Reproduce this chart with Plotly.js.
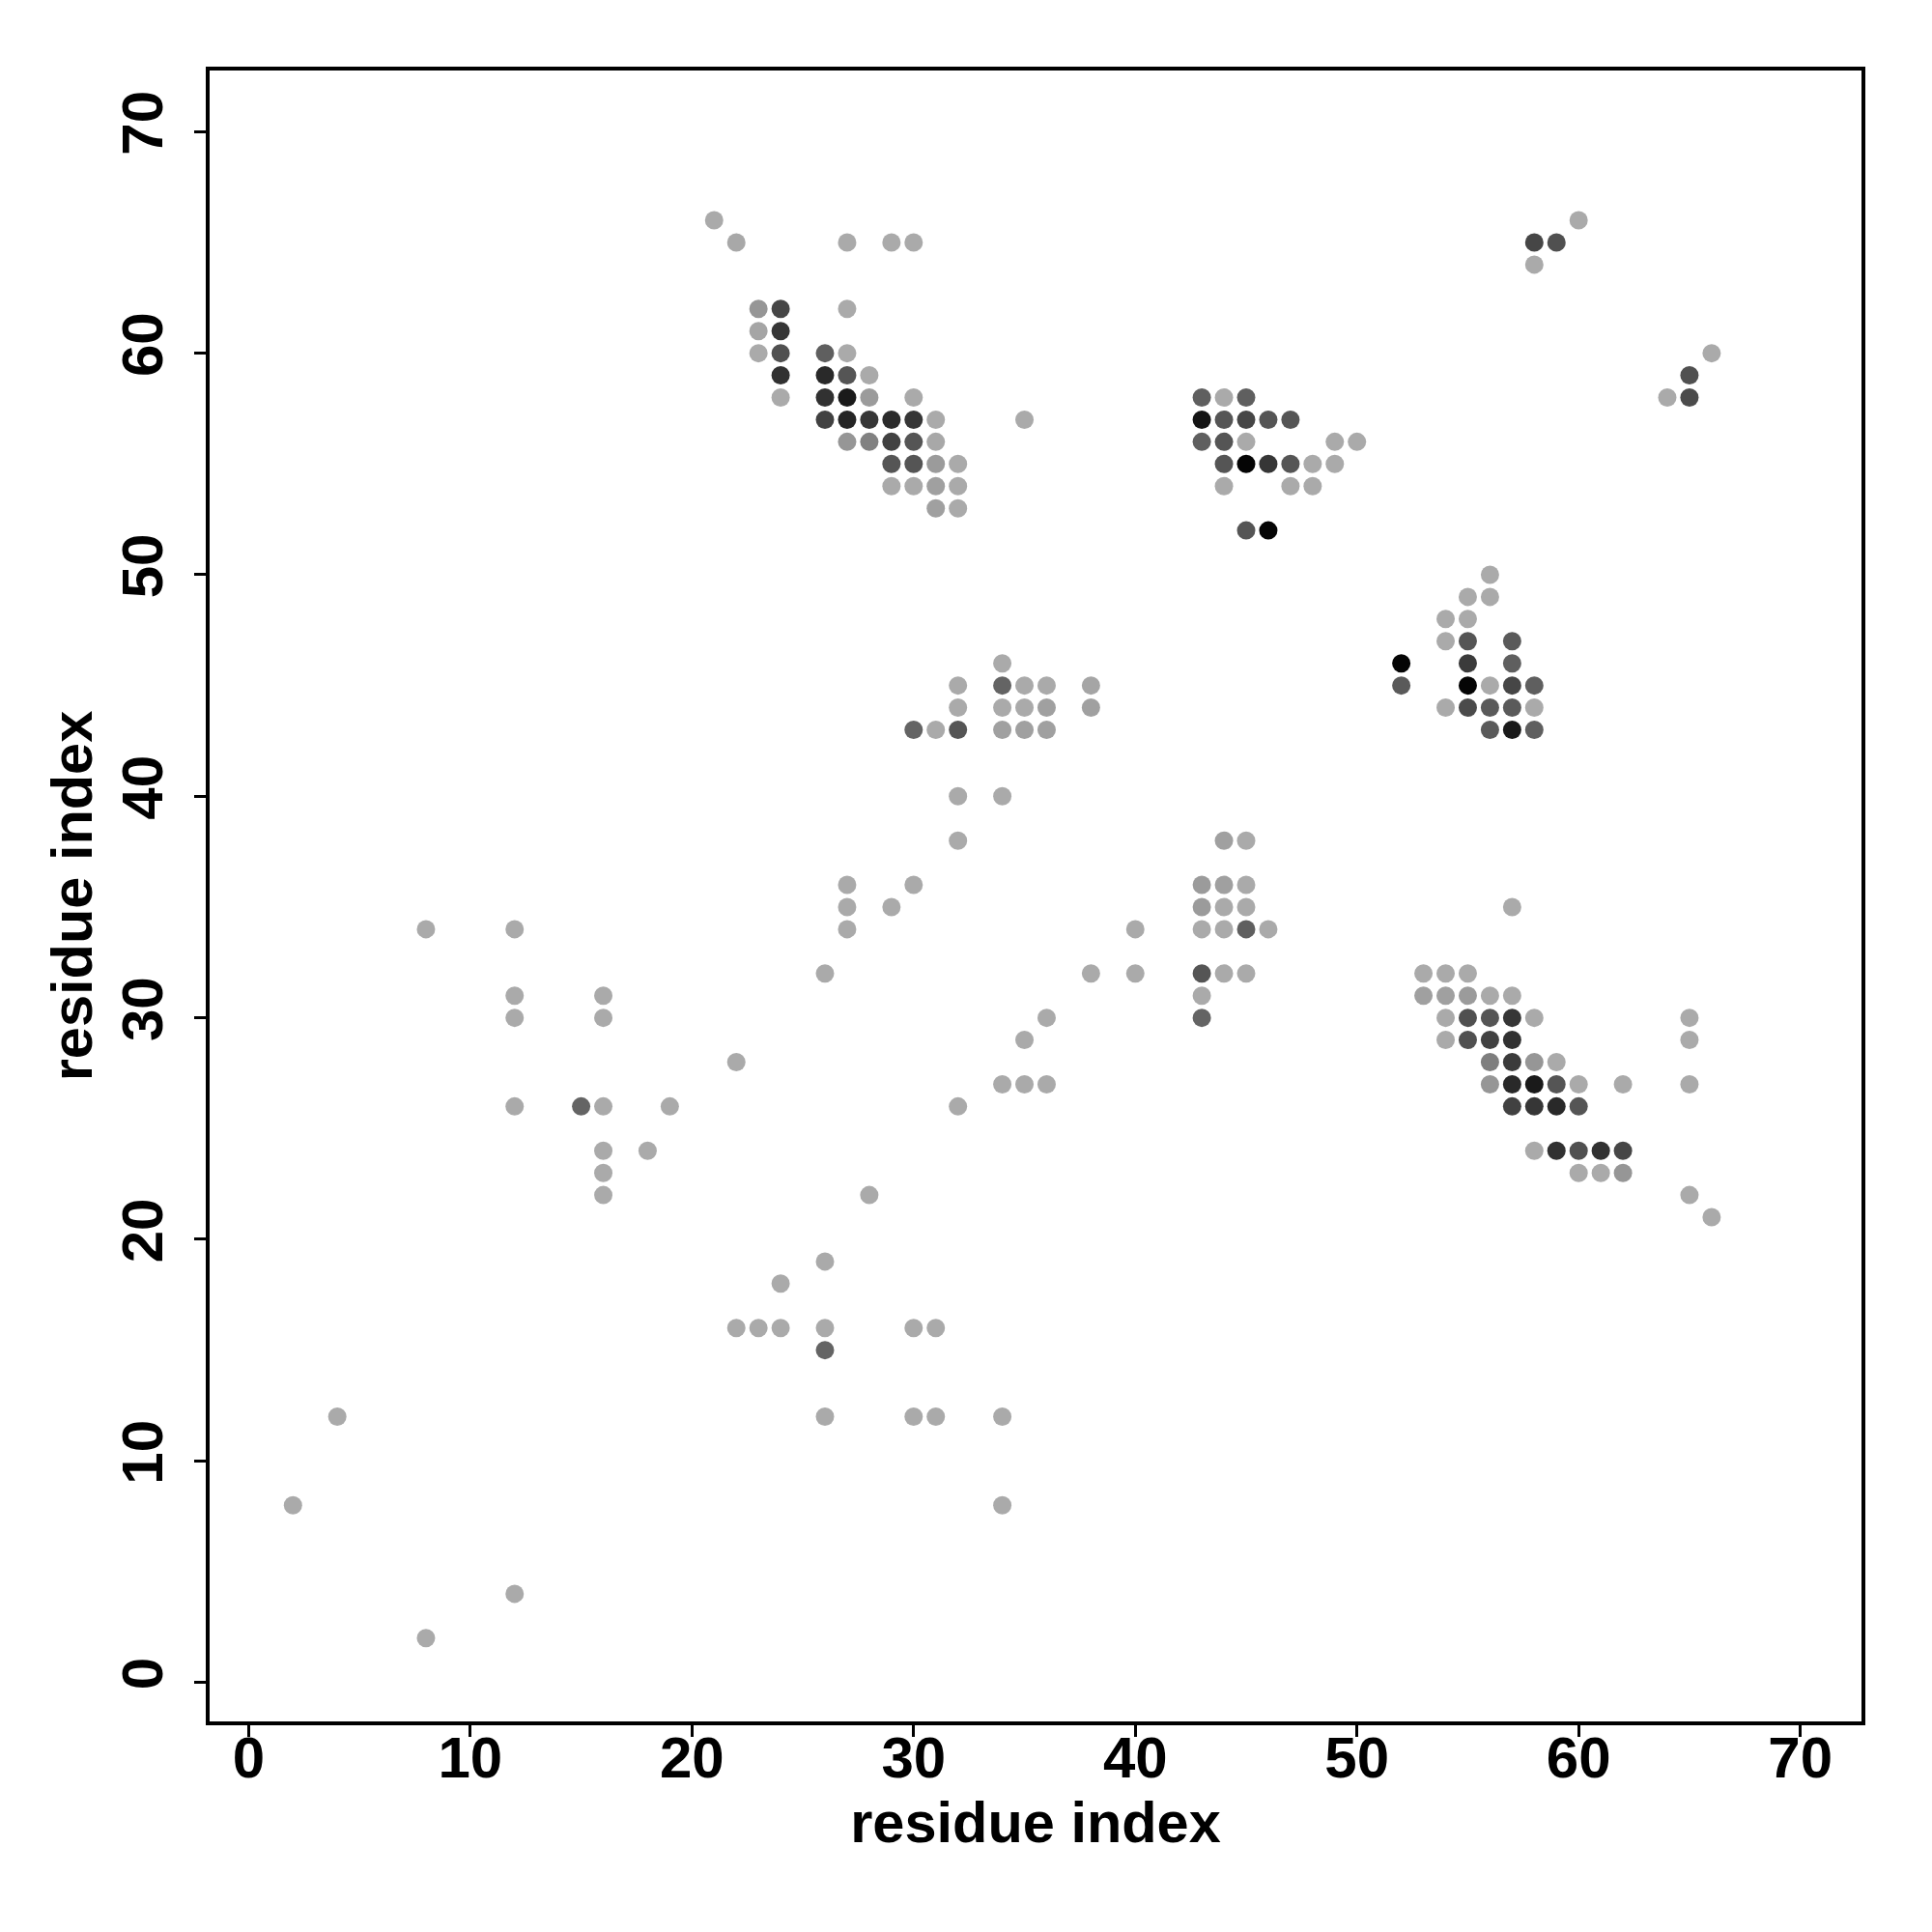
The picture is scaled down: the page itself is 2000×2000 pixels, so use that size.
<!DOCTYPE html>
<html>
<head>
<meta charset="utf-8">
<script src="https://cdn.plot.ly/plotly-3.0.1.min.js"></script>
<style>
  html, body { margin: 0; padding: 0; background: #ffffff; }
  #chart { width: 2000px; height: 2000px; }
</style>
</head>
<body>
<div id="chart"></div>
<script>
// Contact map: residue i (x), residue j (y), contact score (0 = weak/light grey, 1 = strong/black)
const resX = [
  21,22,27,29,30, 23,24,27, 23,24, 23,24,26,27, 24,26,27,28, 24,26,27,28,30,
  26,27,28,29,30,31,35, 27,28,29,30,31, 29,30,31,32, 29,30,31,32, 31,32,
  43,44,45, 43,44,45,46,47, 43,44,45,49,50, 44,45,46,47,48,49, 44,47,48, 45,46,
  56,55,56,54,55, 54,55,57, 52,55,57, 52,55,56,57,58, 54,55,56,57,58, 56,57,58,
  53,54,55, 53,54,55,56,57, 54,55,56,57,58, 54,55,56,57, 56,57,58,59,
  56,57,58,59,60,62, 57,58,59,60, 58,59,60,61,62, 60,61,62,
  34,32,34,35,36,38, 32,34,35,36,38, 30,31,32,34,35,36, 32,34,32,
  44,45, 43,44,45, 43,44,45, 40,43,44,45,46, 38,40,43,44,45, 43,43,
  60,58,59,58,66,65,65,64,
  65,65,65,65,66,57,
  8,12,12,12,16,16, 12,15,16,19, 16,18,16,16,
  22,26,27,27,27,29,30, 32,34,35,36,35,36, 28,
  22,23,24,24,26,26,26, 30,31, 26,30,31,34,34, 2,4,8,12
];
const resY = [
  66,65,65,65,65, 62,62,62, 61,61, 60,60,60,60, 59,59,59,59, 58,58,58,58,58,
  57,57,57,57,57,57,57, 56,56,56,56,56, 55,55,55,55, 54,54,54,54, 53,53,
  58,58,58, 57,57,57,57,57, 56,56,56,56,56, 55,55,55,55,55,55, 54,54,54, 52,52,
  50,49,49,48,48, 47,47,47, 46,46,46, 45,45,45,45,45, 44,44,44,44,44, 43,43,43,
  32,32,32, 31,31,31,31,31, 30,30,30,30,30, 29,29,29,29, 28,28,28,28,
  27,27,27,27,27,27, 26,26,26,26, 24,24,24,24,24, 23,23,23,
  46,45,45,45,45,45, 44,44,44,44,44, 43,43,43,43,43,43, 40,40,38,
  38,38, 36,36,36, 35,35,35, 34,34,34,34,34, 32,32,32,32,32, 31,30,
  66,65,65,64,60,59,58,58,
  30,29,27,22,21,35,
  34,34,31,30,31,30, 26,26,26,26, 24,24,23,22,
  28,32,36,35,34,35,36, 26,27,27,27,29,30, 22,
  16,16,16,18,19,16,15, 16,16, 12,12,12,12,8, 8,12,2,4
];
const score = [
  0,0.01,0,0,0, 0.12,0.59,0, 0.03,0.68, 0,0.53,0.44,0, 0.71,0.76,0.5,0, 0,0.71,0.85,0.09,0,
  0.62,0.78,0.68,0.75,0.68,0,0, 0.12,0.24,0.62,0.5,0.01, 0.5,0.5,0.09,0, 0,0,0.06,0, 0.06,0,
  0.44,0,0.44, 0.88,0.5,0.59,0.5,0.5, 0.44,0.5,0,0,0, 0.5,0.97,0.68,0.5,0,0, 0,0,0, 0.5,0.97,
  0,0,0,0,0, 0,0.5,0.47, 0.97,0.65,0.44, 0.47,0.97,0,0.59,0.44, 0,0.56,0.47,0.47,0, 0.47,0.85,0.44,
  0,0,0, 0.06,0.06,0.09,0,0, 0,0.53,0.5,0.68,0, 0,0.53,0.62,0.71, 0.26,0.65,0.12,0,
  0.12,0.76,0.85,0.5,0,0, 0.62,0.68,0.76,0.5, 0,0.71,0.53,0.71,0.59, 0,0,0.12,
  0,0,0.41,0,0,0.03, 0,0,0,0.06,0.06, 0.41,0,0.5,0.06,0.06,0.06, 0,0,0,
  0.06,0, 0.09,0.06,0, 0.09,0,0, 0,0,0,0.44,0, 0,0,0.5,0,0, 0,0.41,
  0,0.59,0.53,0,0,0.53,0.56,0,
  0,0,0,0,0,0,
  0,0,0,0,0,0, 0,0.41,0,0, 0,0,0,0,
  0,0,0,0,0,0,0, 0,0,0,0,0,0, 0,
  0,0,0,0,0,0,0.41, 0,0, 0,0,0,0,0, 0,0,0,0
];
const tickVals = [0, 10, 20, 30, 40, 50, 60, 70];
const axisTitle = "residue index";

const fontBold = { family: "Liberation Sans, Arial, Helvetica, sans-serif", size: 60, color: "#000000", weight: "bold" };
const titleFont = { family: "Liberation Sans, Arial, Helvetica, sans-serif", size: 59.5, color: "#000000", weight: "bold" };

const trace = {
  type: "scatter",
  mode: "markers",
  x: resX,
  y: resY,
  marker: {
    size: 19,
    color: score,
    cmin: 0,
    cmax: 1,
    colorscale: [[0, "rgb(170,170,170)"], [1, "rgb(0,0,0)"]],
    showscale: false,
    line: { width: 0 }
  },
  hoverinfo: "x+y"
};

const axisCommon = {
  range: [-1.76, 72.76],
  tickvals: tickVals,
  ticktext: tickVals.map(String),
  showgrid: false,
  zeroline: false,
  showline: true,
  mirror: true,
  linecolor: "#000000",
  linewidth: 4,
  ticks: "outside",
  ticklen: 12,
  tickwidth: 3,
  tickcolor: "#000000",
  tickfont: fontBold,
  automargin: false
};

const layout = {
  width: 2000,
  height: 2000,
  paper_bgcolor: "#ffffff",
  plot_bgcolor: "#ffffff",
  showlegend: false,
  margin: { l: 217, r: 73, t: 73, b: 218 },
  xaxis: Object.assign({}, axisCommon, {
    ticklabelstandoff: -30,
    title: { text: axisTitle, font: titleFont, standoff: 12 }
  }),
  yaxis: Object.assign({}, axisCommon, {
    tickangle: -90,
    ticklabelstandoff: 9,
    title: { text: axisTitle, font: titleFont, standoff: 0 }
  })
};

Plotly.newPlot("chart", [trace], layout, { staticPlot: true, displayModeBar: false });
</script>
</body>
</html>
